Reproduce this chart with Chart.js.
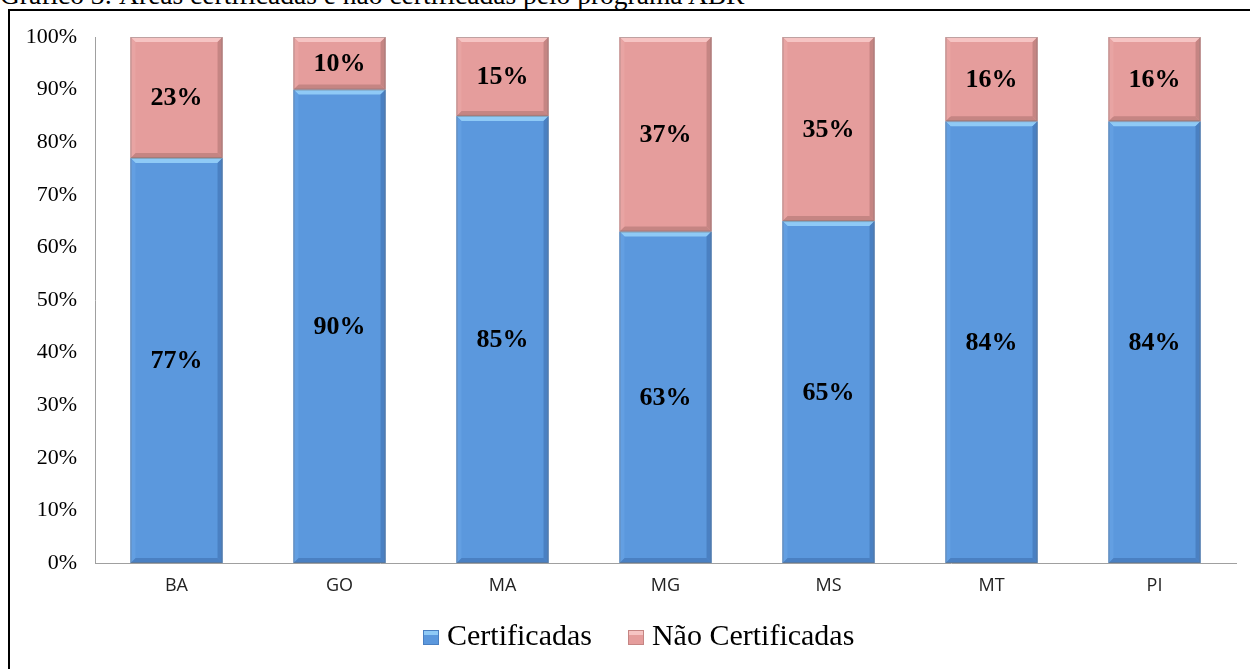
<!DOCTYPE html>
<html>
<head>
<meta charset="utf-8">
<script src="https://cdn.jsdelivr.net/npm/chart.js@4.4.1/dist/chart.umd.min.js"></script>
<style>
    body { margin: 0; background: #fff; width: 1250px; height: 669px; overflow: hidden; position: relative; }
    #title { position: absolute; left: 0; top: -19px; font-family: "Liberation Serif", "Times New Roman", serif; font-size: 27.5px; line-height: 28px; white-space: nowrap; color: #000; }
    #frame { position: absolute; left: 8px; top: 9px; width: 1260px; height: 690px; border: 2px solid #000; box-sizing: border-box; }
    #chartWrap { position: absolute; left: 0; top: 0; width: 1250px; height: 669px; }
    #legend { position: absolute; top: 620px; left: 423px; height: 30px; display: flex; align-items: center; white-space: nowrap; }
    #legend .item { display: flex; align-items: center; margin-right: 36px; font-family: "Liberation Serif", "Times New Roman", serif; font-size: 30px; line-height: 30px; color: #000; }
    #legend .box { width: 16px; height: 15px; margin-right: 8px; margin-top: 4px; box-sizing: border-box; }
</style>
</head>
<body>
<div id="title">Gráfico 3: Áreas certificadas e não certificadas pelo programa ABR</div>
<div id="frame"></div>
<div id="chartWrap"><canvas id="chart" width="1250" height="669"></canvas></div>
<div id="legend"></div>
<script>
// chart data
const states = ["BA", "GO", "MA", "MG", "MS", "MT", "PI"];
const certificadas = [77, 90, 85, 63, 65, 84, 84];
const naoCertificadas = [23, 10, 15, 37, 35, 16, 16];
const yTicks = [0, 10, 20, 30, 40, 50, 60, 70, 80, 90, 100];

const blue = { base: "#5b98dd", light: "#8fcaf6", dark: "#4a80c2", side: "#639fe2" };
const pink = { base: "#e59d9c", light: "#f6c4c3", dark: "#c58583", side: "#e8a4a3" };

// bevel look like the office chart
const bevelPlugin = {
    id: "bevel",
    afterDatasetsDraw(chart) {
        const ctx = chart.ctx;
        chart.data.datasets.forEach((ds, di) => {
            const meta = chart.getDatasetMeta(di);
            const c = ds.bevel;
            meta.data.forEach(bar => {
                const p = bar.getProps(["x", "y", "base", "width"], true);
                const l = p.x - p.width / 2, r = p.x + p.width / 2;
                const t = Math.min(p.y, p.base), b = Math.max(p.y, p.base);
                const k = 5;
                const poly = (pts, col) => {
                    ctx.beginPath();
                    ctx.moveTo(pts[0][0], pts[0][1]);
                    pts.slice(1).forEach(q => ctx.lineTo(q[0], q[1]));
                    ctx.closePath();
                    ctx.fillStyle = col;
                    ctx.fill();
                };
                ctx.save();
                poly([[l, t], [r, t], [r - k, t + k], [l + k, t + k]], c.light);
                poly([[r, t], [r, b], [r - k, b - k], [r - k, t + k]], c.dark);
                poly([[l, b], [r, b], [r - k, b - k], [l + k, b - k]], c.dark);
                poly([[l, t], [l + k, t + k], [l + k, b - k], [l, b]], c.side);
                ctx.strokeStyle = "rgba(110,110,110,0.4)";
                ctx.lineWidth = 1;
                ctx.strokeRect(l + 0.5, t + 0.5, r - l - 1, b - t - 1);
                ctx.restore();
            });
        });
    }
};

// percentage labels in the middle of each segment
const labelPlugin = {
    id: "segLabels",
    afterDatasetsDraw(chart) {
        const ctx = chart.ctx;
        ctx.save();
        ctx.font = 'bold 26px "Liberation Serif", "Times New Roman", serif';
        ctx.fillStyle = "#000";
        ctx.textAlign = "center";
        ctx.textBaseline = "middle";
        chart.data.datasets.forEach((ds, di) => {
            chart.getDatasetMeta(di).data.forEach((bar, i) => {
                const p = bar.getProps(["x", "y", "base"], true);
                ctx.fillText(ds.data[i] + "%", p.x, (p.y + p.base) / 2 + 1);
            });
        });
        ctx.restore();
    }
};

const chart = new Chart(document.getElementById("chart"), {
    type: "bar",
    data: {
        labels: states,
        datasets: [
            {
                label: "Certificadas",
                data: certificadas,
                backgroundColor: blue.base,
                bevel: blue,
                barPercentage: 0.565,
                categoryPercentage: 1
            },
            {
                label: "Não Certificadas",
                data: naoCertificadas,
                backgroundColor: pink.base,
                bevel: pink,
                barPercentage: 0.565,
                categoryPercentage: 1
            }
        ]
    },
    options: {
        responsive: false,
        animation: false,
        layout: { padding: { top: 37, right: 14, bottom: 66, left: 0 } },
        plugins: {
            legend: { display: false },
            tooltip: { enabled: false }
        },
        scales: {
            x: {
                stacked: true,
                grid: { display: false, drawTicks: false },
                border: { color: "#a0a0a0", width: 1 },
                ticks: {
                    padding: 12,
                    color: "#222",
                    font: { family: "'Open Sans', 'Liberation Sans', sans-serif", size: 18 }
                },
                afterFit(scale) { scale.height = 40; }
            },
            y: {
                stacked: true,
                min: 0,
                max: 100,
                afterBuildTicks(scale) { scale.ticks = yTicks.map(v => ({ value: v })); },
                grid: { display: false, drawTicks: false },
                border: { color: "#a0a0a0", width: 1 },
                ticks: {
                    padding: 18,
                    color: "#000",
                    font: { family: "'Liberation Serif', 'Times New Roman', serif", size: 22 },
                    callback: v => v + "%"
                },
                afterFit(scale) { scale.width = 95; }
            }
        }
    },
    plugins: [bevelPlugin, labelPlugin]
});

// html legend built from the datasets
const legend = document.getElementById("legend");
chart.data.datasets.forEach(ds => {
    const item = document.createElement("div");
    item.className = "item";
    const box = document.createElement("span");
    box.className = "box";
    box.style.background = `linear-gradient(to bottom, ${ds.bevel.light} 0, ${ds.bevel.light} 4px, ${ds.backgroundColor} 4px)`;
    box.style.border = `1px solid ${ds.bevel.dark}`;
    item.appendChild(box);
    item.appendChild(document.createTextNode(ds.label));
    legend.appendChild(item);
});
</script>
</body>
</html>
